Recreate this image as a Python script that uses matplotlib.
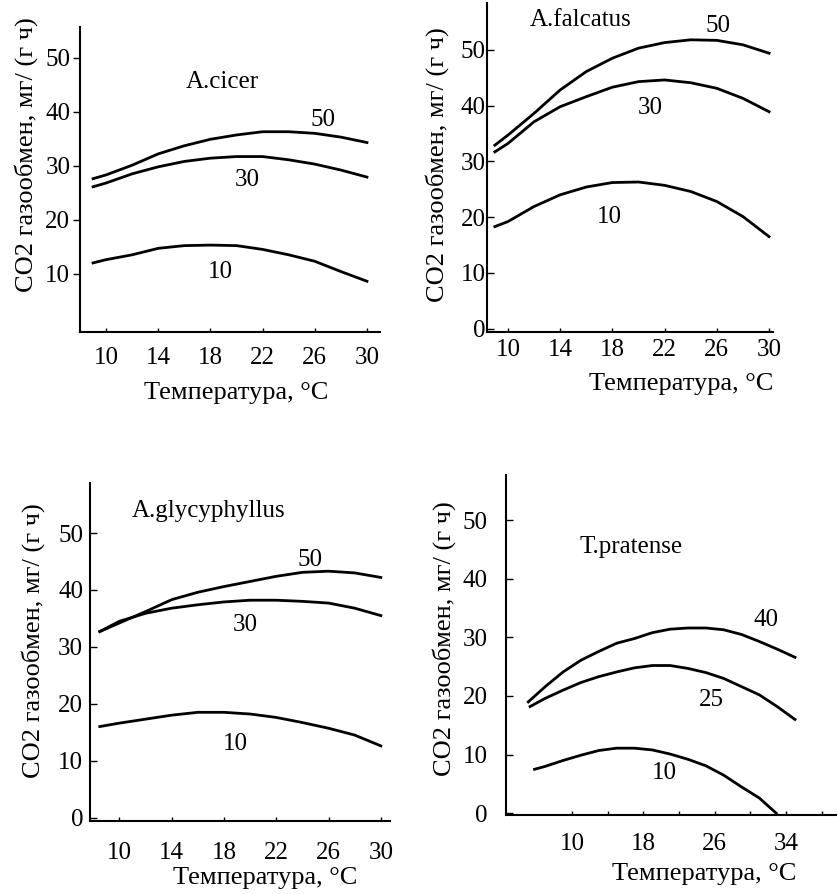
import matplotlib
matplotlib.use("Agg")
import matplotlib.pyplot as plt

plt.rcParams['font.family'] = ['Liberation Serif', 'DejaVu Serif']

W, H = 838, 894

# A.cicer
t1 = [9, 10, 12, 14, 16, 18, 20, 22, 24, 26, 28, 30]
cicer50 = [27.6, 28.3, 30.1, 32.2, 33.7, 34.9, 35.7, 36.3, 36.3, 36.0, 35.3, 34.3]
cicer30 = [26.1, 26.8, 28.5, 29.8, 30.8, 31.4, 31.7, 31.7, 31.1, 30.3, 29.2, 27.9]
cicer10 = [12.0, 12.6, 13.5, 14.7, 15.2, 15.3, 15.2, 14.5, 13.5, 12.3, 10.4, 8.6]

# A.falcatus
t2 = [9, 10, 12, 14, 16, 18, 20, 22, 24, 26, 28, 30]
falc50 = [32.9, 34.7, 38.6, 42.8, 46.1, 48.5, 50.3, 51.3, 51.8, 51.7, 50.9, 49.4]
falc30 = [31.7, 33.2, 37.1, 39.8, 41.6, 43.3, 44.3, 44.6, 44.1, 43.1, 41.3, 38.9]
falc10 = [18.3, 19.2, 21.9, 24.0, 25.4, 26.2, 26.3, 25.7, 24.6, 22.8, 20.1, 16.5]

# A.glycyphyllus
t3 = [8.5, 10, 12, 14, 16, 18, 20, 22, 24, 26, 28, 30]
glyc50 = [32.7, 34.2, 36.2, 38.3, 39.6, 40.6, 41.5, 42.4, 43.1, 43.3, 43.0, 42.2]
glyc30 = [32.7, 34.5, 35.9, 36.8, 37.4, 37.9, 38.2, 38.2, 38.0, 37.7, 36.8, 35.5]
glyc10 = [16.0, 16.6, 17.3, 18.0, 18.5, 18.5, 18.2, 17.6, 16.7, 15.7, 14.5, 12.6]

# T.pratense
t4_40 = [5.1, 7, 9, 11, 13, 15, 17, 19, 21, 23, 25, 27, 29, 31, 33, 35]
prat40 = [19.0, 21.6, 24.1, 26.1, 27.6, 29.0, 29.8, 30.8, 31.4, 31.6, 31.6, 31.3, 30.5, 29.3, 28.0, 26.6]
t4_25 = [5.3, 7, 9, 11, 13, 15, 17, 19, 21, 23, 25, 27, 29, 31, 33, 35]
prat25 = [18.2, 19.6, 21.0, 22.3, 23.3, 24.1, 24.8, 25.2, 25.2, 24.7, 24.0, 23.0, 21.6, 20.2, 18.2, 16.0]
t4_10 = [5.8, 7, 9, 11, 13, 15, 17, 19, 21, 23, 25, 27, 29, 31, 32.9]
prat10 = [7.5, 8.0, 9.0, 9.9, 10.7, 11.1, 11.1, 10.8, 10.1, 9.2, 8.1, 6.5, 4.5, 2.6, 0.0]

ylab = "CO2 газообмен, мг/ (г ч)"
xlab = "Температура, °C"
FS = 18     # ticks, notes
FSL = 19    # axis labels


def make_axes(fig, left, right, top, bottom):
    return fig.add_axes([left / W, 1 - bottom / H, (right - left) / W, (bottom - top) / H])


def style(ax, xlim, ylim, xticks, yticks, ydir, ypad, xpad, ylab_xy, xlab_xy):
    ax.set_xlim(*xlim)
    ax.set_ylim(*ylim)
    for s in ['top', 'right']:
        ax.spines[s].set_visible(False)
    for s in ['left', 'bottom']:
        ax.spines[s].set_linewidth(1.5)
    ax.set_xticks(xticks)
    ax.set_yticks(yticks)
    ax.tick_params(axis='x', direction='in', length=3, width=1, pad=xpad, labelsize=FS)
    ax.tick_params(axis='y', direction=ydir, length=5, width=1, pad=ypad, labelsize=FS)
    ax.set_ylabel(ylab, fontsize=FSL)
    ax.yaxis.set_label_coords(*ylab_xy)
    ax.set_xlabel(xlab, fontsize=FSL)
    ax.xaxis.set_label_coords(*xlab_xy)


fig = plt.figure(figsize=(W / 100, H / 100), dpi=100)
lw = 2.0

# panel 1
ax = make_axes(fig, 80, 380, 27, 332)
ax.plot(t1, cicer50, color='black', lw=lw)
ax.plot(t1, cicer30, color='black', lw=lw)
ax.plot(t1, cicer10, color='black', lw=lw)
style(ax, (8.0, 31.0), (-0.8, 55.7), [10, 14, 18, 22, 26, 30], [10, 20, 30, 40, 50],
      'out', 2, 11, (-0.14, 0.58), (0.52, -0.164))
ax.text(18.9, 45.5, "A.cicer", fontsize=FS, ha='center', va='center')
ax.text(26.6, 38.5, "50", fontsize=FS, ha='center', va='center')
ax.text(20.8, 27.4, "30", fontsize=FS, ha='center', va='center')
ax.text(18.75, 10.4, "10", fontsize=FS, ha='center', va='center')

# panel 2
ax = make_axes(fig, 487, 773, 3, 332)
ax.plot(t2, falc50, color='black', lw=lw)
ax.plot(t2, falc30, color='black', lw=lw)
ax.plot(t2, falc10, color='black', lw=lw)
style(ax, (8.4, 30.3), (-0.6, 58.4), [10, 14, 18, 22, 26, 30], [0, 10, 20, 30, 40, 50],
      'in', 1, 5, (-0.134, 0.508), (0.68, -0.125))
ax.text(15.6, 55.4, "A.falcatus", fontsize=FS, ha='center', va='center')
ax.text(26.1, 54.2, "50", fontsize=FS, ha='center', va='center')
ax.text(20.9, 39.5, "30", fontsize=FS, ha='center', va='center')
ax.text(17.8, 20.1, "10", fontsize=FS, ha='center', va='center')

# panel 3
ax = make_axes(fig, 90, 390, 483, 821)
ax.plot(t3, glyc50, color='black', lw=lw)
ax.plot(t3, glyc30, color='black', lw=lw)
ax.plot(t3, glyc10, color='black', lw=lw)
style(ax, (7.75, 30.7), (-0.6, 58.8), [10, 14, 18, 22, 26, 30], [0, 10, 20, 30, 40, 50],
      'in', 5, 15, (-0.15, 0.533), (0.583, -0.136))
ax.text(16.8, 53.8, "A.glycyphyllus", fontsize=FS, ha='center', va='center')
ax.text(24.6, 45.3, "50", fontsize=FS, ha='center', va='center')
ax.text(19.6, 33.9, "30", fontsize=FS, ha='center', va='center')
ax.text(18.9, 13.0, "10", fontsize=FS, ha='center', va='center')

# panel 4
ax = make_axes(fig, 506, 836, 475, 815)
ax.plot(t4_40, prat40, color='black', lw=lw)
ax.plot(t4_25, prat25, color='black', lw=lw)
ax.plot(t4_10, prat10, color='black', lw=lw)
style(ax, (2.6, 39.6), (-0.3, 57.7), [10, 18, 26, 34], [0, 10, 20, 30, 40, 50],
      'in', 13, 13, (-0.152, 0.52), (0.6, -0.141))
ax.set_xticks([14, 22, 30, 38], minor=True)
ax.tick_params(axis='x', which='minor', direction='in', length=3, width=1)
ax.text(16.6, 45.5, "T.pratense", fontsize=FS, ha='center', va='center')
ax.text(31.7, 33.0, "40", fontsize=FS, ha='center', va='center')
ax.text(25.6, 19.3, "25", fontsize=FS, ha='center', va='center')
ax.text(20.4, 6.8, "10", fontsize=FS, ha='center', va='center')

fig.savefig("out.png", dpi=100)
